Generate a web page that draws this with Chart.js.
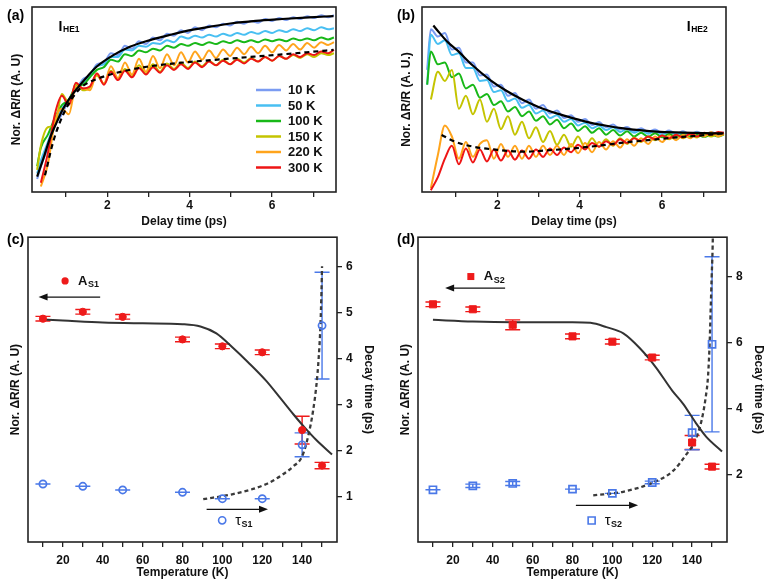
<!DOCTYPE html>
<html>
<head>
<meta charset="utf-8">
<script src="https://cdn.jsdelivr.net/npm/chart.js@4.4.0/dist/chart.umd.min.js"></script>
<style>
  html, body { margin: 0; padding: 0; background: #fff; }
  #wrap { position: relative; width: 771px; height: 587px; overflow: hidden; background: #fff; }
  canvas { position: absolute; }
</style>
</head>
<body>
<div id="wrap">
  <canvas id="chartA" width="345" height="232" style="left:0;top:0"></canvas>
  <canvas id="chartB" width="345" height="232" style="left:390px;top:0"></canvas>
  <canvas id="chartC" width="385" height="361" style="left:0;top:226px"></canvas>
  <canvas id="chartD" width="381" height="361" style="left:390px;top:226px"></canvas>
</div>
<script>
// --- 資料 (a)(b): 延遲時間與各溫度曲線 ---
const delayTime = [0.30,0.39,0.56,0.73,0.90,1.07,1.24,1.41,1.58,1.75,1.92,2.09,2.26,2.43,2.60,2.77,2.94,3.11,3.28,3.45,3.62,3.79,3.96,4.13,4.30,4.47,4.64,4.81,4.98,5.15,5.32,5.49,5.66,5.83,6.00,6.17,6.34,6.51,6.68,6.85,7.02,7.19,7.36,7.50];
const tempLabels = ['10 K', '50 K', '100 K', '150 K', '220 K', '300 K'];

const he1_10K  = [0.07,0.14,0.24,0.36,0.42,0.50,0.55,0.61,0.63,0.69,0.70,0.75,0.74,0.79,0.775,0.815,0.80,0.835,0.82,0.855,0.845,0.875,0.86,0.89,0.875,0.90,0.89,0.91,0.90,0.92,0.91,0.925,0.915,0.935,0.925,0.94,0.93,0.945,0.935,0.95,0.94,0.955,0.945,0.955];
const he1_50K  = [0.10,0.17,0.27,0.38,0.45,0.50,0.56,0.59,0.63,0.68,0.69,0.73,0.73,0.77,0.765,0.79,0.785,0.805,0.80,0.82,0.81,0.84,0.83,0.845,0.835,0.85,0.84,0.855,0.845,0.86,0.85,0.865,0.855,0.87,0.86,0.875,0.865,0.88,0.87,0.885,0.875,0.89,0.88,0.885];
const he1_100K = [0.14,0.24,0.31,0.40,0.47,0.50,0.57,0.58,0.62,0.66,0.675,0.715,0.705,0.745,0.735,0.765,0.755,0.775,0.765,0.79,0.78,0.80,0.79,0.805,0.795,0.81,0.80,0.815,0.805,0.82,0.81,0.82,0.81,0.825,0.815,0.825,0.815,0.83,0.82,0.83,0.82,0.835,0.825,0.835];
const he1_150K = [0.12,0.25,0.35,0.36,0.53,0.48,0.585,0.55,0.565,0.63,0.585,0.655,0.61,0.665,0.625,0.685,0.64,0.69,0.65,0.695,0.665,0.70,0.67,0.705,0.68,0.71,0.685,0.715,0.69,0.72,0.70,0.725,0.705,0.73,0.71,0.735,0.72,0.74,0.725,0.745,0.73,0.75,0.74,0.75];
const he1_220K = [null,0.03,0.15,0.38,0.45,0.42,0.57,0.56,0.55,0.64,0.585,0.68,0.615,0.70,0.635,0.72,0.65,0.735,0.67,0.745,0.685,0.755,0.70,0.76,0.715,0.765,0.725,0.77,0.735,0.78,0.745,0.785,0.75,0.79,0.755,0.795,0.765,0.80,0.77,0.805,0.78,0.81,0.795,0.81];
const he1_300K = [null,0.05,0.21,0.42,0.52,0.47,0.59,0.56,0.57,0.64,0.58,0.65,0.605,0.655,0.62,0.67,0.635,0.675,0.645,0.685,0.66,0.69,0.665,0.70,0.675,0.705,0.685,0.71,0.69,0.715,0.695,0.72,0.705,0.73,0.71,0.735,0.72,0.745,0.73,0.75,0.74,0.76,0.75,0.768];
const he1FitX = [0.30,0.45,0.61,0.77,0.93,1.13,1.34,1.54,1.74,2.15,2.55,2.96,3.36,3.85,4.40,5.03,5.60,6.24,6.90,7.49];
const he1FitY = [0.083,0.18,0.29,0.375,0.45,0.52,0.578,0.63,0.677,0.74,0.785,0.816,0.84,0.867,0.89,0.912,0.925,0.935,0.944,0.951];
const he1Fit300X = [0.49,0.70,1.00,1.34,1.53,1.80,2.15,2.96,3.85,5.03,6.24,7.49];
const he1Fit300Y = [0.09,0.28,0.45,0.56,0.59,0.615,0.64,0.677,0.70,0.722,0.744,0.768];

const he2_10K  = [0.66,0.88,0.84,0.86,0.77,0.78,0.70,0.70,0.63,0.635,0.57,0.58,0.52,0.535,0.48,0.50,0.45,0.47,0.425,0.44,0.40,0.415,0.38,0.395,0.362,0.378,0.35,0.365,0.338,0.352,0.33,0.345,0.325,0.338,0.318,0.332,0.315,0.328,0.312,0.326,0.31,0.325,0.312,0.322];
const he2_50K  = [0.58,0.85,0.80,0.82,0.74,0.75,0.67,0.67,0.60,0.605,0.54,0.55,0.49,0.505,0.455,0.47,0.425,0.44,0.40,0.415,0.38,0.395,0.36,0.375,0.345,0.36,0.335,0.35,0.325,0.34,0.32,0.335,0.315,0.33,0.31,0.325,0.31,0.322,0.308,0.322,0.308,0.32,0.31,0.32];
const he2_100K = [0.58,0.76,0.69,0.70,0.62,0.64,0.56,0.58,0.51,0.53,0.47,0.49,0.435,0.46,0.41,0.435,0.385,0.41,0.365,0.39,0.345,0.37,0.33,0.355,0.32,0.345,0.31,0.335,0.305,0.328,0.30,0.32,0.298,0.318,0.296,0.314,0.296,0.312,0.296,0.31,0.298,0.31,0.30,0.31];
const he2_150K = [null,0.50,0.65,0.60,0.66,0.45,0.52,0.42,0.50,0.38,0.45,0.34,0.41,0.31,0.38,0.29,0.35,0.27,0.33,0.255,0.31,0.245,0.30,0.24,0.29,0.245,0.285,0.25,0.29,0.26,0.295,0.27,0.30,0.28,0.305,0.285,0.31,0.29,0.31,0.295,0.315,0.30,0.315,0.31];
const he2_220K = [null,0.02,0.20,0.36,0.30,0.18,0.27,0.19,0.26,0.28,0.18,0.26,0.19,0.25,0.18,0.25,0.19,0.25,0.20,0.25,0.20,0.26,0.21,0.265,0.215,0.27,0.23,0.275,0.24,0.285,0.25,0.29,0.26,0.30,0.27,0.305,0.28,0.31,0.29,0.32,0.30,0.325,0.30,0.315];
const he2_300K = [null,0.01,0.08,0.18,0.25,0.15,0.235,0.16,0.23,0.165,0.23,0.17,0.225,0.175,0.225,0.18,0.23,0.19,0.235,0.20,0.24,0.215,0.255,0.23,0.265,0.245,0.275,0.255,0.285,0.265,0.29,0.275,0.30,0.285,0.305,0.29,0.31,0.295,0.315,0.30,0.32,0.31,0.325,0.32];
const he2FitX = [0.45,0.60,0.80,1.02,1.40,1.83,2.20,2.63,3.00,3.44,3.85,4.25,4.65,5.06,5.45,5.87,6.50,7.00,7.49];
const he2FitY = [0.90,0.86,0.81,0.768,0.685,0.605,0.55,0.497,0.46,0.425,0.398,0.375,0.358,0.344,0.334,0.326,0.321,0.318,0.317];
const he2Fit300X = [0.65,1.00,1.42,2.00,2.63,3.20,3.85,4.45,5.06,5.65,6.28,6.90,7.49];
const he2Fit300Y = [0.308,0.27,0.245,0.228,0.218,0.225,0.236,0.25,0.267,0.28,0.294,0.305,0.317];

// --- 資料 (c)(d): 溫度相依 ---
const temps = [10, 30, 50, 80, 100, 120, 140, 150];
const as1 = [4.87, 5.02, 4.91, 4.42, 4.27, 4.14, 2.45, 1.68];
const as1Err = [0.05, 0.05, 0.05, 0.05, 0.05, 0.05, 0.30, 0.07];
const tauS1 = [1.28, 1.23, 1.15, 1.10, 0.96, 0.96, 2.13, 4.72];
const tauS1Err = [0, 0, 0, 0, 0, 0, 0.26, 1.16];
const fitA1T = [10, 20, 40, 60, 80, 89, 97, 105, 113, 122, 129, 135.5, 141, 147, 155];
const fitA1 = [4.85, 4.83, 4.79, 4.77, 4.75, 4.70, 4.55, 4.25, 3.92, 3.52, 3.15, 2.80, 2.52, 2.24, 1.92];
const fitTau1T = [90.4, 105.4, 122.1, 130.4, 135.5, 140.0, 143.0, 145.5, 147.2, 148.3, 149.2, 149.7, 150.0];
const fitTau1 = [0.95, 1.06, 1.28, 1.49, 1.66, 1.88, 2.31, 2.87, 3.44, 4.01, 4.73, 5.44, 6.01];
const decayTicks1 = [1, 2, 3, 4, 5, 6];

const as2 = [7.16, 7.01, 6.54, 6.19, 6.03, 5.55, 2.98, 2.25];
const as2Err = [0.07, 0.07, 0.15, 0.07, 0.07, 0.07, 0.21, 0.07];
const tauS2 = [1.55, 1.67, 1.74, 1.57, 1.44, 1.77, 3.28, 5.95];
const tauS2Err = [0, 0.05, 0.06, 0, 0, 0.04, 0.52, 2.65];
const fitA2T = [10, 30, 50, 70, 80, 89, 97, 105.5, 113.8, 122, 130, 135.5, 142, 147, 155];
const fitA2 = [6.69, 6.64, 6.62, 6.62, 6.62, 6.60, 6.47, 6.28, 5.83, 5.24, 4.55, 4.15, 3.56, 3.16, 2.71];
const fitTau2T = [90.4, 105.4, 120.4, 130.4, 137.1, 141.3, 144.6, 146.7, 148.0, 148.8, 149.3, 149.8, 150.2, 150.4];
const fitTau2 = [1.38, 1.49, 1.77, 2.12, 2.62, 3.01, 3.61, 4.30, 5.0, 5.99, 6.98, 7.97, 8.67, 9.19];
const decayTicks2 = [2, 4, 6, 8];
const tempTicks = [10, 20, 30, 40, 50, 60, 70, 80, 90, 100, 110, 120, 130, 140, 150];
const delayTicks = [1, 2, 3, 4, 5, 6, 7];

// --- 樣式 ---
const FONT = '"Liberation Sans", Arial, Helvetica, sans-serif';
const tempColors = ['#7b9cf2', '#48bff2', '#18b818', '#c4c400', '#ffa41c', '#ee1515'];
const RED = '#ee1a1a';
const BLUE = '#4a78e8';
Chart.defaults.font.family = FONT;
Chart.defaults.color = '#111';

function pts(xs, ys) { return xs.map((x, i) => ({ x: x, y: ys[i] })); }

function traceDs(label, xs, ys, color, width, dash) {
    return {
        label: label, data: pts(xs, ys), borderColor: color, borderWidth: width || 2,
        borderDash: dash || [], pointRadius: 0, fill: false, cubicInterpolationMode: 'monotone'
    };
}

// 誤差棒 + 外框 + 標註
function deco(opt) {
    return {
        id: 'deco',
        beforeDatasetsDraw(chart) {
            const ctx = chart.ctx;
            chart.data.datasets.forEach((ds, i) => {
                if (!ds.errY) return;
                const meta = chart.getDatasetMeta(i);
                const ys = chart.scales[meta.yAxisID];
                ctx.save();
                ctx.strokeStyle = ds.borderColor;
                ctx.lineWidth = 1.4;
                meta.data.forEach((pt, j) => {
                    const v = ds.data[j].y, e = ds.errY[j];
                    const y1 = ys.getPixelForValue(v + e), y2 = ys.getPixelForValue(v - e);
                    ctx.beginPath();
                    ctx.moveTo(pt.x, y1); ctx.lineTo(pt.x, y2);
                    ctx.moveTo(pt.x - 7.5, y1); ctx.lineTo(pt.x + 7.5, y1);
                    ctx.moveTo(pt.x - 7.5, y2); ctx.lineTo(pt.x + 7.5, y2);
                    ctx.stroke();
                });
                ctx.restore();
            });
        },
        afterDatasetsDraw(chart) {
            const { ctx, chartArea: a, scales } = chart;
            ctx.save();
            ctx.strokeStyle = '#222';
            ctx.lineWidth = 1.6;
            ctx.strokeRect(a.left, a.top, a.right - a.left, a.bottom - a.top);
            ctx.fillStyle = '#000';
            ctx.textBaseline = 'middle';
            ctx.font = 'bold 14px ' + FONT;
            ctx.fillText(opt.letter, 7, opt.letterY);

            if (opt.tag) {
                ctx.textBaseline = 'alphabetic';
                ctx.font = 'bold 14px ' + FONT;
                ctx.fillText('I', opt.tag.x, 31);
                ctx.font = 'bold 8.5px ' + FONT;
                ctx.fillText(opt.tag.sub, opt.tag.x + 4.5, 32);
            }

            if (opt.legend) {
                ctx.textBaseline = 'middle';
                ctx.font = 'bold 13px ' + FONT;
                tempLabels.forEach((t, i) => {
                    const y = 90 + i * 15.5;
                    ctx.strokeStyle = tempColors[i];
                    ctx.lineWidth = 2.5;
                    ctx.beginPath(); ctx.moveTo(256, y); ctx.lineTo(281, y); ctx.stroke();
                    ctx.fillStyle = '#111';
                    ctx.fillText(t, 288, y + 0.5);
                });
            }

            (opt.arrows || []).forEach(ar => {
                const x1 = scales.x.getPixelForValue(ar.x1), x2 = scales.x.getPixelForValue(ar.x2);
                const y = scales.y1.getPixelForValue(ar.y);
                const dir = x2 > x1 ? 1 : -1;
                ctx.strokeStyle = '#111'; ctx.fillStyle = '#111'; ctx.lineWidth = 1.3;
                ctx.beginPath(); ctx.moveTo(x1, y); ctx.lineTo(x2 - dir * 6, y); ctx.stroke();
                ctx.beginPath();
                ctx.moveTo(x2, y); ctx.lineTo(x2 - dir * 9, y - 3.5); ctx.lineTo(x2 - dir * 9, y + 3.5);
                ctx.closePath(); ctx.fill();
            });

            (opt.marks || []).forEach(m => {
                const x = scales.x.getPixelForValue(m.x), y = scales.y1.getPixelForValue(m.y);
                ctx.strokeStyle = m.color; ctx.fillStyle = m.color; ctx.lineWidth = 1.6;
                ctx.beginPath();
                if (m.shape === 'circle') ctx.arc(x, y, 3.6, 0, Math.PI * 2);
                else ctx.rect(x - 3.5, y - 3.5, 7, 7);
                if (m.filled) ctx.fill(); else ctx.stroke();
                ctx.fillStyle = '#111';
                ctx.textBaseline = 'middle';
                ctx.font = (m.main === 'A' ? 'bold 13px ' : '15px ') + FONT;
                ctx.fillText(m.main, x + 13, y);
                const w = ctx.measureText(m.main).width;
                ctx.font = 'bold 9px ' + FONT;
                ctx.fillText(m.sub, x + 13 + w + 0.5, y + 4);
            });
            ctx.restore();
        }
    };
}

const boldTick = { size: 12, weight: 'bold' };
const gridTicks = { drawOnChartArea: false, drawTicks: true, tickLength: 5, color: '#222', lineWidth: 1.3 };

function delayScales(yTitle) {
    return {
        x: {
            type: 'linear', min: 0.175, max: 7.55,
            afterFit: s => { s.height = 40; },
            afterBuildTicks: s => { s.ticks = delayTicks.map(v => ({ value: v })); },
            ticks: { callback: v => (v % 2 === 0 ? v : ''), font: boldTick, color: '#111', padding: 1, maxRotation: 0, autoSkip: false },
            grid: gridTicks, border: { display: false },
            title: { display: true, text: 'Delay time (ps)', font: boldTick, color: '#111', padding: { top: 0, bottom: 3 } }
        },
        y: {
            min: 0, max: 1,
            afterFit: s => { s.width = 32; },
            ticks: { display: false }, grid: { display: false }, border: { display: false },
            title: { display: true, text: yTitle, font: boldTick, color: '#111', padding: { top: 9, bottom: 0 } }
        }
    };
}

function tempScales(rMin, rMax, rTicks, rWidth, rTitlePad) {
    return {
        x: {
            type: 'linear', min: 2.5, max: 157.5,
            afterFit: s => { s.height = 45; },
            afterBuildTicks: s => { s.ticks = tempTicks.map(v => ({ value: v })); },
            ticks: { callback: v => (v % 20 === 0 ? v : ''), font: boldTick, color: '#111', padding: 6, maxRotation: 0, autoSkip: false },
            grid: gridTicks, border: { display: false },
            title: { display: true, text: 'Temperature (K)', font: boldTick, color: '#111', padding: { top: 0, bottom: 7.4 } }
        },
        y: {
            min: rMin, max: rMax,
            afterFit: s => { s.width = 28; },
            ticks: { display: false }, grid: { display: false }, border: { display: false },
            title: { display: true, text: 'Nor. ΔR/R (A. U)', font: boldTick, color: '#111', padding: { top: 8.7, bottom: 0 } }
        },
        y1: {
            position: 'right', min: rMin, max: rMax,
            afterFit: s => { s.width = rWidth; },
            afterBuildTicks: s => { s.ticks = rTicks.map(v => ({ value: v })); },
            ticks: { font: boldTick, color: '#111', padding: 4 },
            grid: gridTicks, border: { display: false },
            title: { display: true, text: 'Decay time (ps)', font: boldTick, color: '#111', padding: { top: rTitlePad, bottom: 0 } }
        }
    };
}

const baseOpts = { responsive: false, animation: false, devicePixelRatio: 1, plugins: { legend: { display: false }, tooltip: { enabled: false } } };

// --- (a) ---
const seriesA = [he1_10K, he1_50K, he1_100K, he1_150K, he1_220K, he1_300K];
new Chart(document.getElementById('chartA'), {
    type: 'line',
    data: {
        datasets: [
            traceDs('fit', he1FitX, he1FitY, '#000', 2.2),
            traceDs('fit 300 K', he1Fit300X, he1Fit300Y, '#000', 2.2, [5, 4])
        ].concat(seriesA.map((s, i) => traceDs(tempLabels[i], delayTime, s, tempColors[i], 2)).reverse())
    },
    options: Object.assign({}, baseOpts, {
        layout: { padding: { top: 7, right: 9, left: 0, bottom: 0 } },
        scales: delayScales('Nor. ΔR/R (A. U)')
    }),
    plugins: [deco({ letter: '(a)', letterY: 16.5, tag: { x: 58.5, sub: 'HE1' }, legend: true })]
});

// --- (b) ---
const seriesB = [he2_10K, he2_50K, he2_100K, he2_150K, he2_220K, he2_300K];
new Chart(document.getElementById('chartB'), {
    type: 'line',
    data: {
        datasets: [
            traceDs('fit', he2FitX, he2FitY, '#000', 2.2),
            traceDs('fit 300 K', he2Fit300X, he2Fit300Y, '#000', 2.2, [5, 4])
        ].concat(seriesB.map((s, i) => traceDs(tempLabels[i], delayTime, s, tempColors[i], 2)).reverse())
    },
    options: Object.assign({}, baseOpts, {
        layout: { padding: { top: 7, right: 9, left: 0, bottom: 0 } },
        scales: delayScales('Nor. ΔR/R (A. U.)')
    }),
    plugins: [deco({ letter: '(b)', letterY: 16.5, tag: { x: 296.7, sub: 'HE2' } })]
});

// --- (c) ---
new Chart(document.getElementById('chartC'), {
    type: 'line',
    data: {
        datasets: [
            { label: 'A_S1', data: pts(temps, as1), yAxisID: 'y', showLine: false, pointStyle: 'circle', pointRadius: 3.6,
              backgroundColor: RED, borderColor: RED, borderWidth: 1, errY: as1Err },
            { label: 'tau_S1', data: pts(temps, tauS1), yAxisID: 'y1', showLine: false, pointStyle: 'circle', pointRadius: 3.6,
              backgroundColor: 'rgba(0,0,0,0)', borderColor: BLUE, borderWidth: 1.7, errY: tauS1Err },
            Object.assign(traceDs('fit A', fitA1T, fitA1, '#333', 2), { yAxisID: 'y' }),
            Object.assign(traceDs('fit tau', fitTau1T, fitTau1, '#3a3a3a', 2.3, [4, 3]), { yAxisID: 'y1' })
        ]
    },
    options: Object.assign({}, baseOpts, {
        layout: { padding: { top: 6, right: 0, left: 0, bottom: 0 } },
        scales: tempScales(0.02, 6.64, decayTicks1, 48, 9.4)
    }),
    plugins: [deco({
        letter: '(c)', letterY: 14,
        arrows: [{ x1: 38.7, x2: 7.8, y: 5.34 }, { x1: 92.1, x2: 122.9, y: 0.73 }],
        marks: [
            { x: 21.1, y: 5.69, shape: 'circle', filled: true, color: RED, main: 'A', sub: 'S1' },
            { x: 99.9, y: 0.49, shape: 'circle', filled: false, color: BLUE, main: 'τ', sub: 'S1' }
        ]
    })]
});

// --- (d) ---
new Chart(document.getElementById('chartD'), {
    type: 'line',
    data: {
        datasets: [
            { label: 'A_S2', data: pts(temps, as2), yAxisID: 'y', showLine: false, pointStyle: 'rect', pointRadius: 5,
              backgroundColor: RED, borderColor: RED, borderWidth: 1, errY: as2Err },
            { label: 'tau_S2', data: pts(temps, tauS2), yAxisID: 'y1', showLine: false, pointStyle: 'rect', pointRadius: 5,
              backgroundColor: 'rgba(0,0,0,0)', borderColor: BLUE, borderWidth: 1.7, errY: tauS2Err },
            Object.assign(traceDs('fit A', fitA2T, fitA2, '#333', 2), { yAxisID: 'y' }),
            Object.assign(traceDs('fit tau', fitTau2T, fitTau2, '#3a3a3a', 2.3, [4, 3]), { yAxisID: 'y1' })
        ]
    },
    options: Object.assign({}, baseOpts, {
        layout: { padding: { top: 6, right: 0, left: 0, bottom: 0 } },
        scales: tempScales(-0.03, 9.19, decayTicks2, 44, 5.4)
    }),
    plugins: [deco({
        letter: '(d)', letterY: 14,
        arrows: [{ x1: 46.2, x2: 16.1, y: 7.65 }, { x1: 81.7, x2: 112.9, y: 1.08 }],
        marks: [
            { x: 29.0, y: 8.0, shape: 'rect', filled: true, color: RED, main: 'A', sub: 'S2' },
            { x: 89.6, y: 0.62, shape: 'rect', filled: false, color: BLUE, main: 'τ', sub: 'S2' }
        ]
    })]
});
</script>
</body>
</html>
